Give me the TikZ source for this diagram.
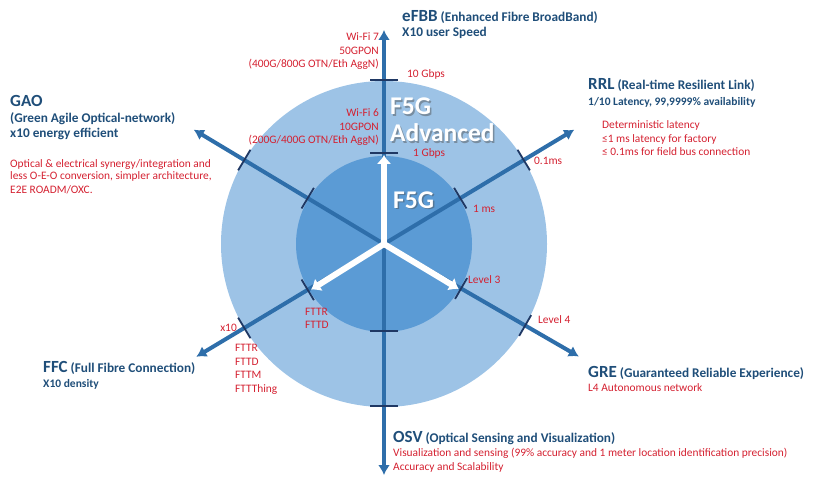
\documentclass[tikz,border=0pt]{standalone}
\usepackage{fontspec}
\setmainfont{Carlito}
\usetikzlibrary{arrows.meta,calc}
\definecolor{ringout}{HTML}{9DC3E6}
\definecolor{ringin}{HTML}{5B9BD5}
\definecolor{axisblue}{HTML}{2E6EAA}
\definecolor{ticknavy}{HTML}{1F3864}
\definecolor{headblue}{HTML}{1F4E79}
\definecolor{notered}{HTML}{D42030}
\tikzset{
  axis/.style={draw=axisblue,line width=4pt,-{Latex[length=10pt,width=12pt]}},
  tick/.style={draw=ticknavy,line width=1.8pt},
  warr/.style={draw=white,line width=6pt,-{Latex[length=9pt,width=15pt]}},
  note/.style={font=\fontsize{11.4}{13.5}\selectfont,text=notered,inner sep=0pt},
  head/.style={font=\bfseries\fontsize{13.3}{15.5}\selectfont,text=headblue,inner sep=0pt,align=left},
  ring/.style={font=\bfseries\fontsize{25.5}{27}\selectfont,text=white,inner sep=0pt,align=left},
  ringsh/.style={ring,text=black!70,opacity=0.45},
}
\newcommand{\acro}[1]{{\fontsize{17}{17}\selectfont #1}}
\newcommand{\subline}[1]{{\fontsize{11.5}{11.5}\selectfont #1}}

\begin{document}
\begin{tikzpicture}[x=1pt,y=1pt]
\useasboundingbox (0,0) rectangle (816,480);
\coordinate (c) at (384,236);
% rings
\fill[ringout] (c) circle (163);
\fill[ringin] (c) circle (88);
% six axes
\coordinate (tipN) at ($(c)+(90:214)$);
\coordinate (tipS) at ($(c)+(-90:231)$);
\coordinate (tipNE) at ($(c)+(31:222)$);
\coordinate (tipSE) at ($(c)+(-30:225)$);
\coordinate (tipNW) at ($(c)+(149:222)$);
\coordinate (tipSW) at ($(c)+(211:219)$);
\draw[axis](c)--(tipN);\draw[axis](c)--(tipS);\draw[axis](c)--(tipNE);
\draw[axis](c)--(tipSE);\draw[axis](c)--(tipNW);\draw[axis](c)--(tipSW);
% ticks where the axes cross the rings
\draw[tick] ($(c)+(90:91)+(0:14)$) -- ($(c)+(90:91)+(180:14)$);
\draw[tick] ($(c)+(90:164)+(0:14)$) -- ($(c)+(90:164)+(180:14)$);
\draw[tick] ($(c)+(-90:87)+(0:14)$) -- ($(c)+(-90:87)+(180:14)$);
\draw[tick] ($(c)+(-90:162)+(0:14)$) -- ($(c)+(-90:162)+(180:14)$);
\draw[tick] ($(c)+(31:89)+(121:12)$) -- ($(c)+(31:89)+(-59:12)$);
\draw[tick] ($(c)+(31:163)+(121:12)$) -- ($(c)+(31:163)+(-59:12)$);
\draw[tick] ($(c)+(-30:89)+(60:12)$) -- ($(c)+(-30:89)+(240:12)$);
\draw[tick] ($(c)+(-30:163)+(60:12)$) -- ($(c)+(-30:163)+(240:12)$);
\draw[tick] ($(c)+(149:89)+(59:12)$) -- ($(c)+(149:89)+(239:12)$);
\draw[tick] ($(c)+(149:163)+(59:12)$) -- ($(c)+(149:163)+(239:12)$);
\draw[tick] ($(c)+(211:89)+(121:12)$) -- ($(c)+(211:89)+(301:12)$);
\draw[tick] ($(c)+(211:163)+(121:12)$) -- ($(c)+(211:163)+(301:12)$);
% F5G arrows
\coordinate (f5up) at ($(c)+(90:89)$);
\coordinate (f5sw) at ($(c)+(212:86)$);
\coordinate (f5se) at ($(c)+(-31:87)$);
\draw[warr](c)--(f5up);\draw[warr](c)--(f5sw);\draw[warr](c)--(f5se);
% ring titles
\node[ringsh,anchor=base west] at (391.5,336.5) {F5G\\Advanced};
\node[ring,anchor=base west] (adv) at (390,338) {F5G\\Advanced};
\node[ringsh,anchor=base west] at (394.5,270.5) {F5G};
\node[ring,anchor=base west] (f5g) at (393,272) {F5G};
% values on the axes (base = last line)
\node[note,anchor=base east,align=right] (wifi7) at (379,412) {Wi-Fi 7\\50GPON\\(400G/800G OTN/Eth AggN)};
\node[note,anchor=base east,align=right] (wifi6) at (379,336) {Wi-Fi 6\\10GPON\\(200G/400G OTN/Eth AggN)};
\node[note,anchor=base west] (g10) at (407,402) {10 Gbps};
\node[note,anchor=base west] (g1) at (413,323) {1 Gbps};
\node[note,anchor=base west] (ms1) at (473,268) {1 ms};
\node[note,anchor=base west] (ms01) at (534,315) {0.1ms};
\node[note,anchor=base west] (lv3) at (468,197) {Level 3};
\node[note,anchor=base west] (lv4) at (538,157) {Level 4};
\node[note,anchor=base west,align=left,font=\fontsize{11.4}{12.5}\selectfont] (fttin) at (305,152) {FTTR\\FTTD};
\node[note,anchor=base east] (x10) at (237,149) {x10};
\node[note,anchor=base west,align=left] (fttout) at (235,88) {FTTR\\FTTD\\FTTM\\FTTThing};
% the six directions
\node[head,anchor=base west,font=\bfseries\fontsize{13.3}{15}\selectfont] (efbb) at (402,443) {\acro{eFBB} (Enhanced Fibre BroadBand)\\X10 user Speed};
\node[head,anchor=base west] (gao) at (10,342) {\acro{GAO}\\(Green Agile Optical-network)\\x10 energy efficient};
\node[note,anchor=base west,align=left,font=\fontsize{11.4}{13}\selectfont] (gaonote) at (10,287) {Optical \& electrical synergy/integration and\\less O-E-O conversion, simpler architecture,\\E2E ROADM/OXC.};
\node[head,anchor=base west,font=\bfseries\fontsize{13.3}{16}\selectfont] (rrl) at (588,374) {\acro{RRL} (Real-time Resilient Link)\\\subline{1/10 Latency, 99,9999\% availability}};
\node[note,anchor=base west,align=left] (rrlnote) at (602,324) {Deterministic latency\\≤1 ms latency for factory\\≤ 0.1ms for field bus connection};
\node[head,anchor=base west,font=\bfseries\fontsize{13.3}{15}\selectfont] (ffc) at (43,93) {\acro{FFC} (Full Fibre Connection)\\\subline{X10 density}};
\node[head,anchor=base west] (gre) at (588,103) {\acro{GRE} (Guaranteed Reliable Experience)};
\node[note,anchor=base west] (grenote) at (588,89) {L4 Autonomous network};
\node[head,anchor=base west] (osv) at (393,38) {\acro{OSV} (Optical Sensing and Visualization)};
\node[note,anchor=base west,align=left,font=\fontsize{11.4}{14}\selectfont] (osvnote) at (393,10) {Visualization and sensing (99\% accuracy and 1 meter location identification precision)\\Accuracy and Scalability};
\end{tikzpicture}
\end{document}
